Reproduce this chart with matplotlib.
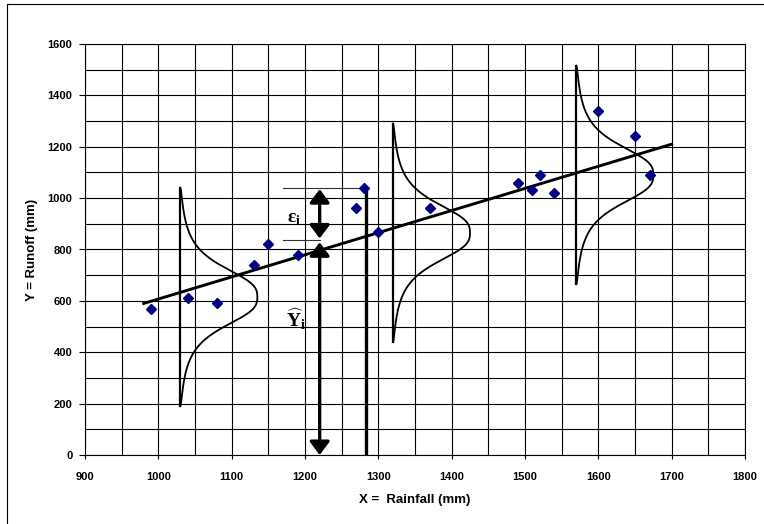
import matplotlib
matplotlib.use("Agg")
import matplotlib.pyplot as plt
import numpy as np
from matplotlib.patches import Rectangle

plt.rcParams['font.family'] = ['Liberation Sans', 'DejaVu Sans']
plt.rcParams['mathtext.fontset'] = 'custom'
plt.rcParams['mathtext.rm'] = 'Liberation Serif'
plt.rcParams['mathtext.bf'] = 'Liberation Serif:bold'

# observed data points
rain = [990, 1040, 1080, 1130, 1150, 1190, 1270, 1280, 1300, 1370,
        1490, 1510, 1520, 1540, 1600, 1650, 1670]
runoff = [570, 610, 590, 740, 820, 780, 960, 1040, 870, 960,
          1060, 1030, 1090, 1020, 1340, 1240, 1090]

# fitted line end points
fit_x = [980, 1700]
fit_y = [590, 1210]

# distribution sketches: baseline x, centre y, half height, width
curve_x = [1030, 1320, 1570]
curve_mid = [615, 865, 1090]
curve_half = 425
curve_width = 105

# annotation values
arrow_x = 1220
eps_top, eps_bot = 1035, 843
yhat_top = 828
obs_x, obs_y = 1283, 1040

fig = plt.figure(figsize=(7.64, 5.24), dpi=100)
ax = fig.add_axes([85 / 764, 69 / 524, 660 / 764, 411 / 524])

# grid
for gx in np.arange(900, 1801, 50):
    ax.axvline(gx, color='black', lw=0.8, zorder=1)
for gy in np.arange(0, 1601, 100):
    ax.axhline(gy, color='black', lw=0.8, zorder=1)

# regression line and points
ax.plot(fit_x, fit_y, color='black', lw=2.1, zorder=4)
ax.plot(rain, runoff, 'D', color='#000080', ms=5, zorder=5)

# distribution curves (bell shape drawn sideways on a vertical base)
for bx, mid in zip(curve_x, curve_mid):
    yy = np.linspace(mid - curve_half, mid + curve_half, 300)
    d = (yy - mid)
    shape = 1 / (1 + np.abs(d / 132.0) ** 2.8)
    shape = shape * np.sqrt(np.clip(1 - (d / curve_half) ** 2, 0, 1))
    ax.plot(bx + curve_width * shape, yy, color='black', lw=1.3, zorder=3)
    ax.plot([bx, bx], [mid - curve_half, mid + curve_half], color='black', lw=1.6, zorder=3)

# observed value line
ax.plot([obs_x, obs_x], [0, obs_y], color='black', lw=2.4, zorder=3)
ax.plot([1170, obs_x], [obs_y, obs_y], color='#333333', lw=0.8, zorder=3)
ax.plot([1170, arrow_x], [eps_bot - 5, eps_bot - 5], color='#333333', lw=0.8, zorder=3)

style = '<|-|>,head_length=0.8,head_width=0.6'
ax.annotate('', xy=(arrow_x, eps_top), xytext=(arrow_x, eps_bot),
            arrowprops=dict(arrowstyle=style, color='black', lw=2.4,
                            shrinkA=0, shrinkB=0, mutation_scale=10), zorder=6)
ax.annotate('', xy=(arrow_x, yhat_top), xytext=(arrow_x, 0),
            arrowprops=dict(arrowstyle=style, color='black', lw=2.4,
                            shrinkA=0, shrinkB=0, mutation_scale=10), zorder=6)

ax.text(1176, 918, r'$\mathbf{ε}_\mathbf{i}$', fontsize=14, ha='left', va='center')
ax.text(1174, 530, r'$\widehat{\mathbf{Y}}_\mathbf{i}$', fontsize=14, ha='left', va='center')

ax.set_xlim(900, 1800)
ax.set_ylim(0, 1600)
ax.set_xticks(np.arange(900, 1801, 100))
ax.set_yticks(np.arange(0, 1601, 200))
ax.tick_params(axis='x', length=3, pad=9, labelsize=8, width=0.8)
ax.tick_params(axis='y', length=4, pad=5, labelsize=8, width=0.8)
for lab in ax.get_xticklabels() + ax.get_yticklabels():
    lab.set_fontweight('bold')
for sp in ax.spines.values():
    sp.set_linewidth(0.8)

ax.set_xlabel('X =  Rainfall (mm)', fontsize=9.5, fontweight='bold', labelpad=9)
ax.set_ylabel('Y = Runoff (mm)', fontsize=9.5, fontweight='bold', labelpad=7)

# outer frame
fig.add_artist(Rectangle((7 / 764, -0.5), 2, 0.5 + 520 / 524, transform=fig.transFigure,
                         fill=False, lw=0.8, edgecolor='black'))

fig.savefig('out.png', dpi=100)
